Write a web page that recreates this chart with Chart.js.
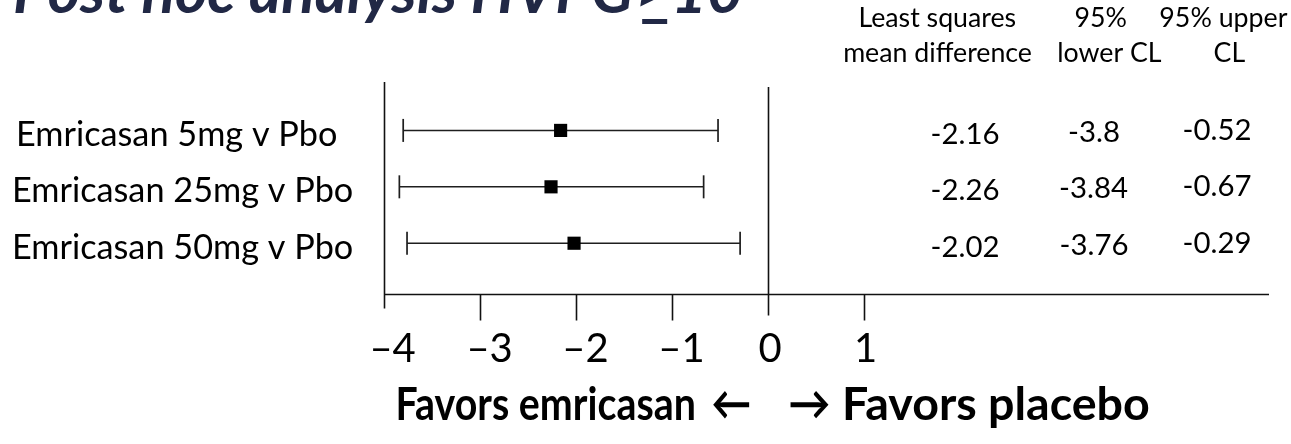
<!DOCTYPE html>
<html>
<head>
<meta charset="utf-8">
<title>Post hoc analysis HVPG≥10</title>
<script src="https://cdn.jsdelivr.net/npm/chart.js@4.4.1/dist/chart.umd.min.js"></script>
<style>
  html, body { margin: 0; padding: 0; background: #ffffff; }
  #wrap { position: relative; width: 1291px; height: 444px; }
</style>
</head>
<body>
<div id="wrap"><canvas id="forest"></canvas></div>
<script>
// ---- data ----
const comparisons = ['Emricasan 5mg v Pbo', 'Emricasan 25mg v Pbo', 'Emricasan 50mg v Pbo'];
const meanDiff = [-2.16, -2.26, -2.02];
const lowerCL = [-3.8, -3.84, -3.76];
const upperCL = [-0.52, -0.67, -0.29];
const xTicks = [-4, -3, -2, -1, 0, 1];
const columnHeaders = [
  ['Least squares', 'mean difference'],
  ['95%', 'lower CL'],
  ['95% upper', 'CL']
];
const titleText = ['Post hoc analysis HVPG', '>', '10'];
const favorsLeft = 'Favors emricasan';
const favorsRight = 'Favors placebo';
const arrowLeft = '\u2190';
const arrowRight = '\u2192';

// ---- text helpers (ink-box based placement) ----
const FAMILY = "Lato, 'Open Sans', 'Liberation Sans', sans-serif";

function inkWidth(ctx, text, style) {
  ctx.font = style + ' 100px ' + FAMILY;
  const m = ctx.measureText(text);
  return m.actualBoundingBoxLeft + m.actualBoundingBoxRight;
}
function fitSize(ctx, text, style, width) {
  return 100 * width / inkWidth(ctx, text, style);
}
function textLeft(ctx, text, font, left, base) {
  ctx.font = font; ctx.textAlign = 'left'; ctx.textBaseline = 'alphabetic';
  const m = ctx.measureText(text);
  ctx.fillText(text, left + m.actualBoundingBoxLeft, base);
  return m;
}
function textRight(ctx, text, font, right, base) {
  ctx.font = font; ctx.textAlign = 'left'; ctx.textBaseline = 'alphabetic';
  const m = ctx.measureText(text);
  ctx.fillText(text, right - m.actualBoundingBoxRight, base);
}
function textCenter(ctx, text, font, cx, base) {
  ctx.font = font; ctx.textAlign = 'left'; ctx.textBaseline = 'alphabetic';
  const m = ctx.measureText(text);
  ctx.fillText(text, cx - (m.actualBoundingBoxRight - m.actualBoundingBoxLeft) / 2, base);
}
// draws text so that its ink spans [left, right], scaling horizontally only
function textSpan(ctx, text, font, left, right, base) {
  ctx.font = font; ctx.textAlign = 'left'; ctx.textBaseline = 'alphabetic';
  const m = ctx.measureText(text);
  const ink = m.actualBoundingBoxLeft + m.actualBoundingBoxRight;
  const sx = (right - left) / ink;
  ctx.save();
  ctx.translate(left, base);
  ctx.scale(sx, 1);
  ctx.fillText(text, m.actualBoundingBoxLeft, 0);
  ctx.restore();
}

// ---- axes, reference lines and all annotation text ----
const forestDecor = {
  id: 'forestDecor',
  afterDraw(chart) {
    const ctx = chart.ctx;
    const xs = chart.scales.x, ys = chart.scales.y;
    const area = chart.chartArea;
    const axisY = Math.round(area.bottom) + 0.5;
    const xMin = Math.round(xs.getPixelForValue(xTicks[0])) + 0.5;
    const xZero = Math.round(xs.getPixelForValue(0)) + 0.5;

    ctx.save();
    ctx.strokeStyle = '#111111';
    ctx.lineWidth = 1.6;
    ctx.beginPath();
    // horizontal axis
    ctx.moveTo(xMin, axisY); ctx.lineTo(area.right, axisY);
    // left boundary line at the first tick
    ctx.moveTo(xMin, area.top + 8); ctx.lineTo(xMin, axisY + 14);
    // line of no difference
    ctx.moveTo(xZero, area.top + 13); ctx.lineTo(xZero, axisY + 21);
    // remaining tick marks
    xTicks.forEach(v => {
      if (v === xTicks[0] || v === 0) return;
      const px = Math.round(xs.getPixelForValue(v)) + 0.5;
      ctx.moveTo(px, axisY); ctx.lineTo(px, axisY + 26);
    });
    ctx.stroke();

    ctx.fillStyle = '#000000';
    // tick labels
    const tickFont = '40px ' + FAMILY;
    xTicks.forEach(v => {
      const label = v < 0 ? '\u2013' + Math.abs(v) : String(v);
      const px = xs.getPixelForValue(v) + (v < 0 ? 10 : 2);
      textCenter(ctx, label, tickFont, px, axisY + 67);
    });

    // row labels
    const rowSize = fitSize(ctx, comparisons[1], '', 337);
    const rowFont = rowSize.toFixed(2) + 'px ' + FAMILY;
    comparisons.forEach((name, i) => {
      const py = ys.getPixelForValue(i + 1);
      textLeft(ctx, name, rowFont, i === 0 ? 19 : 15, py + 15.5);
    });

    // value columns
    const numSize = fitSize(ctx, '-2.16', '', 66);
    const numFont = numSize.toFixed(2) + 'px ' + FAMILY;
    const colX = [965, 1094, 1217];
    const colDy = [13.3, 11.5, 9.5];
    [meanDiff, lowerCL, upperCL].forEach((col, c) => {
      col.forEach((v, i) => {
        const py = ys.getPixelForValue(i + 1);
        textCenter(ctx, String(v), numFont, colX[c], py + colDy[c]);
      });
    });

    // column headers
    const headSize = fitSize(ctx, columnHeaders[0][1], '', 186);
    const headFont = headSize.toFixed(2) + 'px ' + FAMILY;
    const headX = [[938, 938], [1101, 1110], [1224, 1230]];
    columnHeaders.forEach((lines, c) => {
      textCenter(ctx, lines[0], headFont, headX[c][0], 27);
      textCenter(ctx, lines[1], headFont, headX[c][1], 62);
    });

    // bottom caption
    const capSize = fitSize(ctx, favorsRight, 'bold', 303);
    const capFont = 'bold ' + capSize.toFixed(2) + 'px ' + FAMILY;
    textSpan(ctx, favorsLeft, capFont, 398, 694, 420);
    textSpan(ctx, arrowLeft, capFont, 713, 750, 420);
    textSpan(ctx, arrowRight, capFont, 790, 829, 420);
    textLeft(ctx, favorsRight, capFont, 845, 420);

    // title (partly above the top edge), with underlined ">" for "greater or equal"
    const tStyle = 'italic bold';
    const tSize = fitSize(ctx, titleText[0], tStyle, 618);
    const tFont = tStyle + ' ' + tSize.toFixed(2) + 'px ' + FAMILY;
    ctx.fillStyle = '#212845';
    ctx.font = tFont; ctx.textAlign = 'left'; ctx.textBaseline = 'alphabetic';
    const m0 = ctx.measureText(titleText[0]);
    let tx = 15 + m0.actualBoundingBoxLeft;
    ctx.fillText(titleText[0], tx, 13);
    tx += m0.width + 2;
    const m1 = ctx.measureText(titleText[1]);
    ctx.fillText(titleText[1], tx, 13);
    ctx.fillRect(tx - m1.actualBoundingBoxLeft + 2, 19, m1.actualBoundingBoxLeft + m1.actualBoundingBoxRight - 2, 5);
    tx += m1.width;
    ctx.fillText(titleText[2], tx, 13);

    ctx.restore();
  }
};

function build() {
  const rows = comparisons.map((_, i) => i + 1);

  const intervalSets = rows.map((r, i) => ({
    label: comparisons[i],
    data: [{ x: lowerCL[i], y: r }, { x: upperCL[i], y: r }],
    showLine: true,
    borderColor: '#1e1e1e',
    borderWidth: 1.5,
    pointStyle: 'line',
    pointRotation: 90,
    pointRadius: 11.5,
    pointBorderColor: '#1e1e1e',
    pointBorderWidth: 1.7,
    order: 2
  }));

  const estimateSet = {
    label: 'Least squares mean difference',
    data: rows.map((r, i) => ({ x: meanDiff[i], y: r })),
    pointStyle: 'rect',
    pointRadius: 9.3,
    pointBackgroundColor: '#000000',
    pointBorderColor: '#000000',
    pointBorderWidth: 0,
    showLine: false,
    order: 1
  };

  new Chart(document.getElementById('forest'), {
    type: 'scatter',
    data: { datasets: [...intervalSets, estimateSet] },
    options: {
      responsive: true,
      maintainAspectRatio: false,
      animation: false,
      events: [],
      layout: { padding: { left: 384, right: 22, top: 74, bottom: 150 } },
      plugins: { legend: { display: false }, tooltip: { enabled: false } },
      scales: {
        x: { type: 'linear', min: -4, max: 5.22, display: false },
        y: { type: 'linear', min: 0, max: 3.9, reverse: true, display: false }
      }
    },
    plugins: [forestDecor]
  });
}

const fontLoads = ['16px Lato', 'bold 16px Lato', 'italic bold 16px Lato'].map(f =>
  document.fonts.load(f).catch(() => null));
Promise.all(fontLoads).then(build, build);
</script>
</body>
</html>
